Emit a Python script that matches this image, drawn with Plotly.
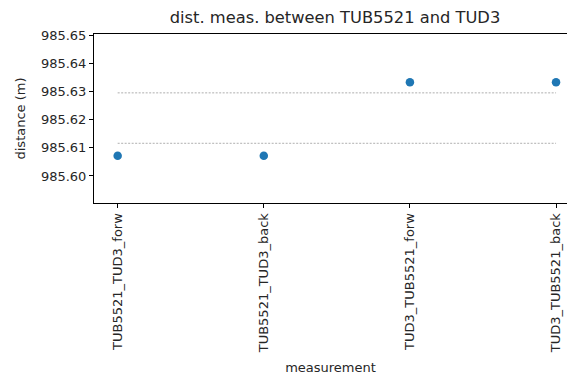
import plotly.graph_objects as go

# measurements and their distances
measurements = ["TUB5521_TUD3_forw", "TUB5521_TUD3_back",
                "TUD3_TUB5521_forw", "TUD3_TUB5521_back"]
distances = [985.6072, 985.6072, 985.6333, 985.6333]

# reference band (lower / upper) drawn as thin dotted lines
band_lower = 985.6116
band_upper = 985.6295

y_ticks = [985.60, 985.61, 985.62, 985.63, 985.64, 985.65]
y_range = [985.5904, 985.6504]

FONT = "DejaVu Sans"
TEXT = "#262626"

fig = go.Figure()

for level in (band_upper, band_lower):
    fig.add_trace(go.Scatter(
        x=[measurements[0], measurements[-1]], y=[level, level],
        mode="lines", line=dict(color="#8c8c8c", width=0.7, dash="2px,1.5px"),
        showlegend=False, hoverinfo="skip"))

fig.add_trace(go.Scatter(
    x=measurements, y=distances, mode="markers",
    marker=dict(color="#1f77b4", size=8.5, line=dict(width=0)),
    showlegend=False))

fig.update_layout(
    width=567, height=383,
    margin=dict(l=94, r=0, t=34, b=180),
    paper_bgcolor="white", plot_bgcolor="white",
    font=dict(family=FONT, size=13, color=TEXT),
    title=dict(text="dist. meas. between TUB5521 and TUD3",
               x=(94 + 576) / 2 / 567, xanchor="center",
               y=1 - 17 / 383, yanchor="middle",
               font=dict(size=16.3, color=TEXT)),
)

fig.update_xaxes(
    type="category", categoryorder="array", categoryarray=measurements,
    range=[-0.162, 3.075],
    showline=True, linecolor="black", linewidth=1, mirror=True,
    showgrid=False, zeroline=False,
    ticks="outside", ticklen=4, tickwidth=1, tickcolor="black",
    tickangle=-90, tickfont=dict(size=13, color=TEXT),
    title=dict(text="measurement", font=dict(size=13, color=TEXT), standoff=10),
)

fig.update_yaxes(
    range=y_range, tickvals=y_ticks, tickformat=".2f",
    showline=True, linecolor="black", linewidth=1, mirror=False,
    showgrid=False, zeroline=False,
    ticks="outside", ticklen=4, tickwidth=1, tickcolor="black",
    tickfont=dict(size=13, color=TEXT),
    title=dict(text="distance (m)", font=dict(size=13, color=TEXT), standoff=12),
)

fig.write_html("out.html")
